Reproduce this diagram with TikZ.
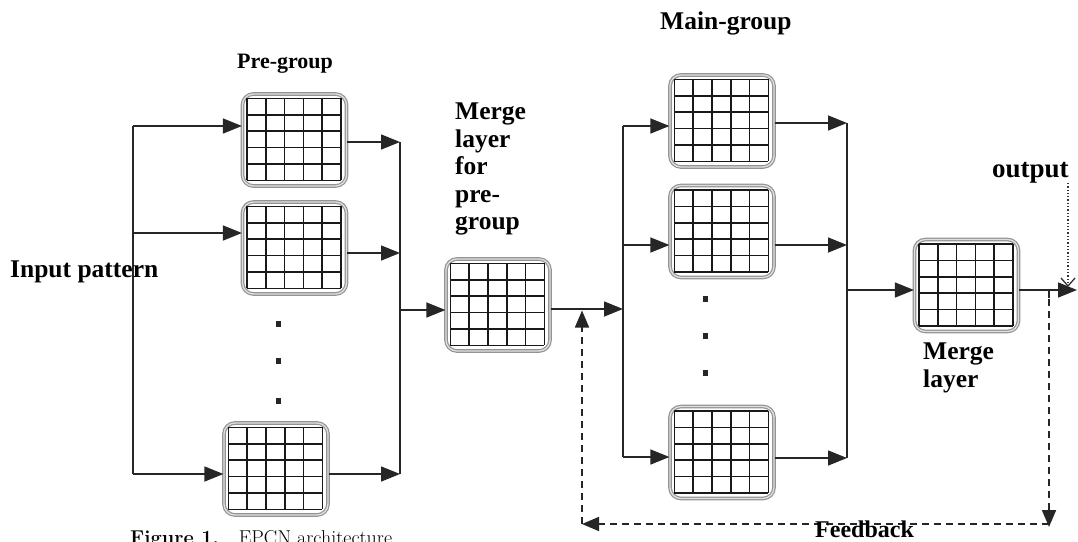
\documentclass[tikz,border=0pt]{standalone}
\usepackage{fontspec}
\newfontfamily\lib{Liberation Serif}
\usetikzlibrary{arrows.meta,calc}
\tikzset{
  gbox/.style={draw=gray!85, double=gray!25, double distance=1.3pt, line width=1.2pt,
    rounded corners=11pt, minimum width=104pt, minimum height=92pt, inner sep=0pt},
  gline/.style={line width=1.6pt, black!90},
  conn/.style={line width=1.5pt, black!85},
  arr/.style={conn, -{Triangle[length=19pt,width=15pt]}},
  fb/.style={line width=1.7pt, black!85, dash pattern=on 7pt off 5pt},
  fbarr/.style={fb, -{Triangle[length=17pt,width=14pt]}},
  lbl/.style={font=\lib\bfseries\fontsize{25.5}{27.5}\selectfont, inner sep=0pt},
  dotmark/.style={fill=black!85},
}
\newcommand\gridbox[3]{%
  \node[gbox] (#1) at (#2,#3) {};
  \foreach \k in {0,...,5}{%
    \draw[gline] ($(#1.north west)+(5+\k*18.8,5)$) -- ++(0,82);
    \draw[gline] ($(#1.north west)+(5,5+\k*16.4)$) -- ++(94,0);
  }}
\begin{document}
\begin{tikzpicture}[x=1pt,y=-1pt]
\useasboundingbox (0,0) rectangle (1078,541);
\fill[white] (0,0) rectangle (1078,541);

% boxes
\gridbox{pre1}{294.5}{140}
\gridbox{pre2}{294.5}{248}
\gridbox{pre3}{276}{469}
\gridbox{mpre}{498}{305}
\gridbox{main1}{722}{121}
\gridbox{main2}{722}{231.5}
\gridbox{main3}{722}{452.5}
\gridbox{mmain}{966.5}{285.5}

% dots
\foreach \yy in {321,358,398}{\fill[dotmark] (275.5,\yy) rectangle ++(5,6);}
\foreach \yy in {296,333,370}{\fill[dotmark] (702.5,\yy) rectangle ++(5,6);}

% input branches
\coordinate (inA) at (133,126);
\coordinate (inB) at (133,233);
\coordinate (inC) at (133,474);
\draw[conn] (inA) -- (inC);
\draw[arr] (inA) -- (inA -| pre1.west);
\draw[arr] (inB) -- (inB -| pre2.west);
\draw[arr] (inC) -- (inC -| pre3.west);

% pre-group outputs
\coordinate (pA) at (400,142);
\coordinate (pB) at (400,253);
\coordinate (pC) at (400,474);
\coordinate (pM) at (400,310);
\draw[conn] (pA) -- (pC);
\draw[arr] (pre1.east |- pA) -- (pA);
\draw[arr] (pre2.east |- pB) -- (pB);
\draw[arr] (pre3.east |- pC) -- (pC);
\draw[arr] (pM) -- (pM -| mpre.west);

% merge pre output to main group
\coordinate (mIn) at (623,309);
\coordinate (mA) at (623,126);
\coordinate (mB) at (623,245);
\coordinate (mC) at (623,457);
\draw[arr] (mpre.east |- mIn) -- (mIn);
\draw[conn] (mA) -- (mC);
\draw[arr] (mA) -- (mA -| main1.west);
\draw[arr] (mB) -- (mB -| main2.west);
\draw[arr] (mC) -- (mC -| main3.west);

% main group outputs
\coordinate (oA) at (847,123);
\coordinate (oB) at (847,245);
\coordinate (oC) at (847,458);
\coordinate (oM) at (847,290);
\draw[conn] (oA) -- (oC);
\draw[arr] (main1.east |- oA) -- (oA);
\draw[arr] (main2.east |- oB) -- (oB);
\draw[arr] (main3.east |- oC) -- (oC);
\draw[arr] (oM) -- (oM -| mmain.west);

% output
\coordinate (out) at (1077,290);
\draw[arr] (mmain.east |- out) -- (out);

% feedback
\coordinate (fbR) at (1049,291);
\coordinate (fbRB) at (1049,527);
\coordinate (fbLB) at (582,524);
\coordinate (fbU) at (582,310.5);
\draw[fb] (fbR) -- ++(0,8);
\draw[fbarr] ($(fbR)+(0,8)$) -- (fbRB);
\draw[fbarr] (1049,524) -- (fbLB);
\draw[fbarr] (fbLB) -- (fbU);

% labels
\node[lbl, anchor=base west] (inlbl) at (10,277) {Input pattern};
\node[lbl, anchor=base west, font=\lib\bfseries\fontsize{22}{24}\selectfont] (prelbl) at (237,68) {Pre-group};
\node[lbl, anchor=base west] (mainlbl) at (660,29) {Main-group};
\node[lbl, anchor=north west, align=left] (mprelbl) at (455,103) {Merge\\layer\\for\\pre-\\group};
\node[lbl, anchor=north west, align=left] (mmainlbl) at (923,343) {Merge\\layer};
\node[lbl, anchor=base west, font=\lib\bfseries\fontsize{27}{29}\selectfont] (outlbl) at (992,177) {output};
\node[lbl, anchor=base west, font=\lib\bfseries\fontsize{24}{26}\selectfont] (fblbl) at (815,537) {Feedback};
\coordinate (outTip) at (1068,287);
\draw[dotted, line width=1.3pt, black!80, -{Straight Barb[length=8pt,width=14pt]}] (outTip |- outlbl.south) -- (outTip);

% caption (cut off by the page edge, as in the source)
\node[anchor=base west, inner sep=0pt, font=\fontsize{20}{22}\selectfont\addfontfeature{LetterSpace=6}] (cap) at (130,544) {\textbf{Figure 1.}\quad EPCN architecture};
\end{tikzpicture}
\end{document}
